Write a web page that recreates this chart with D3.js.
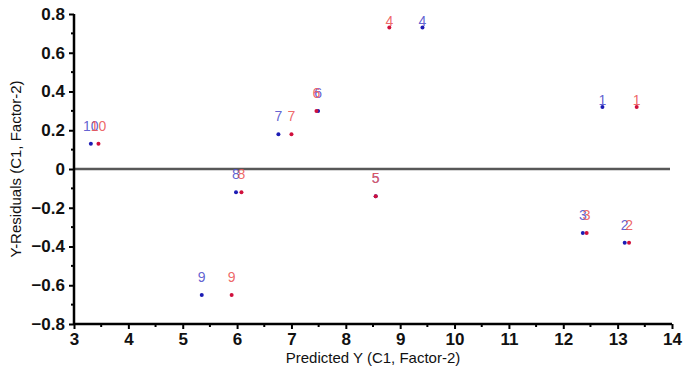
<!DOCTYPE html>
<html>
<head>
<meta charset="utf-8">
<script src="https://cdn.jsdelivr.net/npm/d3@7"></script>
<style>
  html, body { margin: 0; padding: 0; background: #fff; }
  svg { display: block; }
</style>
</head>
<body>
<svg id="chart" width="695" height="376"></svg>
<script>
// Observation numbers and their residuals (shared by both series)
const observations = ["1", "2", "3", "4", "5", "6", "7", "8", "9", "10"];
const residuals = [0.32, -0.38, -0.33, 0.73, -0.14, 0.30, 0.18, -0.12, -0.65, 0.13];
// Predicted Y for the two series
const predictedBlue = [12.72, 13.13, 12.36, 9.41, 8.55, 7.49, 6.76, 5.98, 5.35, 3.31];
const predictedRed = [13.35, 13.21, 12.43, 8.80, 8.55, 7.46, 7.00, 6.08, 5.90, 3.45];
// Axis ticks
const xTicks = [3, 4, 5, 6, 7, 8, 9, 10, 11, 12, 13, 14];
const yTicks = [-0.8, -0.6, -0.4, -0.2, 0, 0.2, 0.4, 0.6, 0.8];

const svg = d3.select("#chart");
const margin = { left: 74, right: 23, top: 14, bottom: 52 };
const W = 695, H = 376;

const x = d3.scaleLinear().domain([3, 14]).range([margin.left, W - margin.right]);
const y = d3.scaleLinear().domain([-0.8, 0.8]).range([H - margin.bottom, margin.top]);

const font = "'Liberation Sans', Arial, sans-serif";

// zero reference line
svg.append("line")
  .attr("x1", x(3)).attr("x2", x(14) - 2)
  .attr("y1", y(0)).attr("y2", y(0))
  .attr("stroke", "#585858").attr("stroke-width", 2.5);

// minor ticks
const xMinor = d3.range(3.5, 14, 1);
const yMinor = d3.range(-7, 8, 2).map(v => v / 10);

const xAxis = svg.append("g").attr("transform", `translate(0,${y(-0.8)})`);
xAxis.call(d3.axisBottom(x).tickValues(xTicks).tickFormat(d3.format("d")).tickSize(5).tickPadding(4));
xAxis.selectAll(".minor").data(xMinor).enter().append("line")
  .attr("class", "minor")
  .attr("x1", d => x(d)).attr("x2", d => x(d))
  .attr("y1", 0).attr("y2", 3).attr("stroke", "#000").attr("stroke-width", 2);

const yAxis = svg.append("g").attr("transform", `translate(${x(3)},0)`);
yAxis.call(d3.axisLeft(y).tickValues(yTicks).tickFormat(d => d === 0 ? "0" : d3.format(".1f")(d)).tickSize(5).tickPadding(4));
yAxis.selectAll(".minor").data(yMinor).enter().append("line")
  .attr("class", "minor")
  .attr("x1", 0).attr("x2", -3)
  .attr("y1", d => y(d)).attr("y2", d => y(d)).attr("stroke", "#000").attr("stroke-width", 2);

[xAxis, yAxis].forEach(g => {
  g.select(".domain").attr("stroke", "#000").attr("stroke-width", 2.5);
  g.selectAll(".tick line").attr("stroke", "#000").attr("stroke-width", 2);
  g.selectAll(".tick text")
    .attr("fill", "#111")
    .style("font-family", font)
    .style("font-size", "17px")
    .style("font-weight", "bold");
});
xAxis.select(".domain").attr("d", `M${x(3)},0H${x(14)}`);
yAxis.select(".domain").attr("d", `M0,${y(0.8)}V${y(-0.8)}`);

// axis titles
svg.append("text")
  .attr("x", (x(3) + x(14)) / 2).attr("y", 363)
  .attr("text-anchor", "middle")
  .style("font-family", font).style("font-size", "15px").attr("fill", "#111")
  .text("Predicted Y (C1, Factor-2)");

svg.append("text")
  .attr("transform", `translate(21,${(y(0.8) + y(-0.8)) / 2}) rotate(-90)`)
  .attr("text-anchor", "middle")
  .style("font-family", font).style("font-size", "15px").attr("fill", "#111")
  .text("Y-Residuals (C1, Factor-2)");

// label offsets above each dot (observations 1 and 4 sit tight to their dots)
const labelGap = d => (d === "1" || d === "4") ? 2 : 13;

const series = [
  { xs: predictedBlue, dot: "#1c1cb4", label: "#5050cc" },
  { xs: predictedRed, dot: "#d0103c", label: "#ec5656" }
];

series.forEach(s => {
  const g = svg.append("g");
  observations.forEach((obs, i) => {
    const px = x(s.xs[i]), py = y(residuals[i]);
    g.append("circle").attr("cx", px).attr("cy", py).attr("r", 2).attr("fill", s.dot);
    g.append("text")
      .attr("x", px).attr("y", py - labelGap(obs))
      .attr("text-anchor", "middle")
      .style("font-family", font).style("font-size", "14px")
      .attr("fill", s.label).attr("fill-opacity", 0.9)
      .text(obs);
  });
});
</script>
</body>
</html>
